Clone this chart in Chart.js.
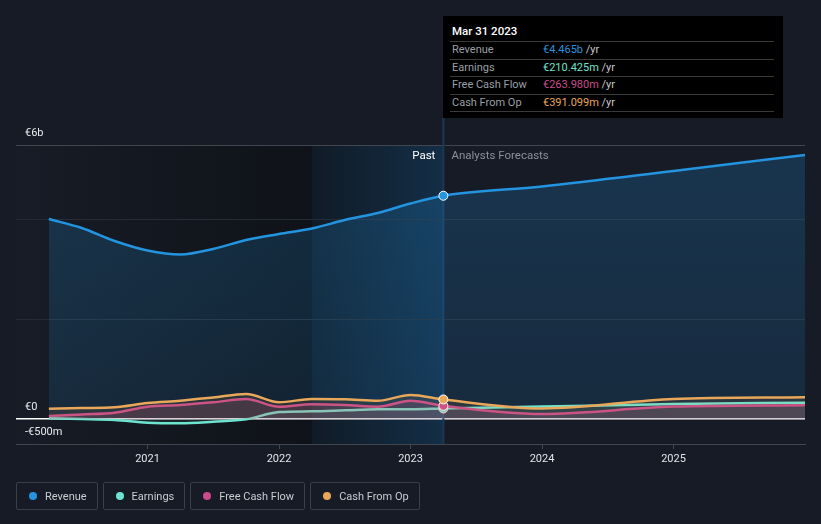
<!DOCTYPE html>
<html>
<head>
<meta charset="utf-8">
<script src="https://cdn.jsdelivr.net/npm/chart.js@4/dist/chart.umd.min.js"></script>
<style>
  body { margin: 0; background: #161b26; font-family: Roboto, "Open Sans", sans-serif; }
  #wrap { position: relative; width: 821px; height: 524px; overflow: hidden; }
  #chart { position: absolute; left: 0; top: 0; }
  #tip { position: absolute; left: 443px; top: 16px; width: 340px; height: 102px; background: #000; color: #fff; font-size: 11px; }
  #tip .title { position: absolute; left: 9px; top: 8px; font-size: 11.5px; font-weight: 500; }
  #tip .row { position: absolute; left: 7px; width: 324px; height: 17px; border-top: 1px solid #3a3a3a; }
  #tip .row > span { position: absolute; top: 1px; }
  #tip .lab { left: 2px; color: #9a9fa6; }
  #tip .val { left: 93px; white-space: nowrap; }
  #tip .yr { color: #c8c8c8; }
  #tip .end { position: absolute; left: 7px; top: 95px; width: 324px; border-top: 1px solid #3a3a3a; }
  #legend { position: absolute; left: 16px; top: 482px; display: flex; }
  .item { height: 28px; border: 1px solid #3a404b; border-radius: 2px; margin-right: 5px; display: flex; align-items: center; padding: 0 10px 0 12px; color: #c9ccd1; font-size: 11px; box-sizing: border-box; }
  .dot { width: 8px; height: 8px; border-radius: 50%; margin-right: 8px; }
</style>
</head>
<body>
<div id="wrap">
  <canvas id="chart" width="821" height="524"></canvas>
  <div id="tip"></div>
  <div id="legend"></div>
</div>
<script>
// quarter ends as decimal years, past then analyst forecasts (values in EUR m)
const years    = [2020.25, 2020.5, 2020.75, 2021.0, 2021.25, 2021.5, 2021.75, 2022.0, 2022.25, 2022.5, 2022.75, 2023.0, 2023.25, 2024.0, 2025.0, 2026.0];
const revenue  = [4000, 3820, 3560, 3370, 3290, 3400, 3580, 3700, 3810, 3980, 4120, 4310, 4465, 4650, 4960, 5280];
const earnings = [14, 0, -20, -74, -86, -54, -6, 140, 154, 174, 194, 195, 210, 248, 300, 326];
const fcf      = [60, 90, 126, 246, 280, 334, 400, 246, 294, 280, 246, 366, 264, 100, 248, 274];
const cfo      = [206, 220, 234, 320, 366, 430, 500, 335, 400, 395, 365, 480, 391, 210, 400, 434];

const xTicks = [2021, 2022, 2023, 2024, 2025];
const yTicks = [-500, 0, 2000, 4000, 5480];
const yLabels = { '-500': '-€500m', '0': '€0', '5480': '€6b' };

const nowX = 2023.25;      // last reported
const yearAgoX = 2022.25;  // start of highlighted last year
const nowIdx = years.indexOf(nowX);

const seriesNames  = ['Revenue', 'Earnings', 'Free Cash Flow', 'Cash From Op'];
const seriesColors = ['#2394df', '#6ee3cf', '#c94b8b', '#e9a75a'];
const tipValues    = ['€4.465b', '€210.425m', '€263.980m', '€391.099m'];
const tipTitle     = 'Mar 31 2023';

function pts(vals) {
  return years.map((x, i) => ({ x: x, y: vals[i] }));
}

// tooltip box
const tip = document.getElementById('tip');
let html = '<div class="title">' + tipTitle + '</div>';
seriesNames.forEach((n, i) => {
  html += '<div class="row" style="top:' + (25 + i * 17.5) + 'px"><span class="lab">' + n + '</span>' +
    '<span class="val"><span style="color:' + seriesColors[i] + '">' + tipValues[i] + '</span> <span class="yr">/yr</span></span></div>';
});
html += '<div class="end"></div>';
tip.innerHTML = html;

// legend
const legend = document.getElementById('legend');
seriesNames.forEach((n, i) => {
  const d = document.createElement('div');
  d.className = 'item';
  d.innerHTML = '<span class="dot" style="background:' + seriesColors[i] + '"></span>' + n;
  legend.appendChild(d);
});

const bands = {
  id: 'bands',
  beforeDraw(chart) {
    const { ctx, chartArea: a, scales: { x } } = chart;
    const x1 = x.getPixelForValue(yearAgoX);
    const x2 = x.getPixelForValue(nowX);
    let g = ctx.createLinearGradient(a.left, 0, x1, 0);
    g.addColorStop(0, '#171c26');
    g.addColorStop(1, '#0f1218');
    ctx.fillStyle = g;
    ctx.fillRect(a.left, a.top, x1 - a.left, a.bottom - a.top);
    g = ctx.createLinearGradient(x1, 0, x2, 0);
    g.addColorStop(0, '#111b26');
    g.addColorStop(1, '#132e47');
    ctx.fillStyle = g;
    ctx.fillRect(x1, a.top, x2 - x1, a.bottom - a.top);
  },
  beforeDatasetsDraw(chart) {
    const { ctx, chartArea: a, scales: { x } } = chart;
    const x2 = x.getPixelForValue(nowX);
    ctx.save();
    ctx.strokeStyle = '#1b3856';
    ctx.lineWidth = 2;
    ctx.beginPath();
    ctx.moveTo(x2, 118);
    ctx.lineTo(x2, a.bottom);
    ctx.stroke();
    ctx.restore();
  },
  afterDraw(chart) {
    const { ctx, chartArea: a, scales: { x } } = chart;
    const x2 = x.getPixelForValue(nowX);
    ctx.save();
    ctx.font = '11.5px Roboto';
    ctx.textBaseline = 'middle';
    ctx.textAlign = 'right';
    ctx.fillStyle = '#ffffff';
    ctx.fillText('Past', x2 - 8, a.top + 11);
    ctx.textAlign = 'left';
    ctx.fillStyle = '#8a9099';
    ctx.fillText('Analysts Forecasts', x2 + 8, a.top + 11);
    ctx.restore();
  }
};

function revFill(c) {
  const a = c.chart.chartArea;
  if (!a) return 'rgba(35,148,223,0.2)';
  const g = c.chart.ctx.createLinearGradient(0, a.top, 0, a.bottom);
  g.addColorStop(0, 'rgba(35,148,223,0.22)');
  g.addColorStop(1, 'rgba(35,148,223,0.12)');
  return g;
}

const radius = c => c.dataIndex === nowIdx ? 4.5 : 0;

function ds(label, vals, color, fillColor, width) {
  return {
    label: label,
    data: pts(vals),
    borderColor: color,
    backgroundColor: fillColor,
    fill: 'origin',
    borderWidth: width,
    cubicInterpolationMode: 'monotone',
    pointRadius: radius,
    pointHoverRadius: 0,
    pointBackgroundColor: color,
    pointBorderColor: '#ffffff',
    pointBorderWidth: 1
  };
}

new Chart(document.getElementById('chart'), {
  type: 'line',
  data: {
    datasets: [
      ds('Cash From Op', cfo, '#e9a75a', 'rgba(233,167,90,0.10)', 2.5),
      ds('Free Cash Flow', fcf, '#c94b8b', 'rgba(201,75,139,0.18)', 2.5),
      ds('Earnings', earnings, '#6ee3cf', 'rgba(110,227,207,0.08)', 2.5),
      ds('Revenue', revenue, '#2394df', revFill, 2.5)
    ]
  },
  options: {
    responsive: false,
    devicePixelRatio: 1,
    animation: false,
    layout: { padding: { left: 16, right: 16, top: 145, bottom: 50 } },
    plugins: { legend: { display: false }, tooltip: { enabled: false } },
    scales: {
      x: {
        type: 'linear',
        min: 2020,
        max: 2026,
        afterBuildTicks: s => { s.ticks = xTicks.map(v => ({ value: v })); },
        afterFit: s => { s.height = 30; },
        grid: { drawOnChartArea: false, drawTicks: true, tickLength: 5, color: '#40454e' },
        border: { display: true, color: '#40454e' },
        ticks: { color: '#e2e4e8', font: { family: 'Roboto', size: 11 }, padding: 4, callback: v => String(v) }
      },
      y: {
        min: -500,
        max: 5480,
        afterBuildTicks: s => { s.ticks = yTicks.map(v => ({ value: v })); },
        afterFit: s => { s.width = 0; },
        border: { display: false },
        grid: {
          drawTicks: false,
          color: c => c.tick.value === 0 ? '#ffffff' : (c.tick.value === 5480 || c.tick.value === -500 ? '#40454e' : '#262c37'),
          lineWidth: c => c.tick.value === 0 ? 1.5 : 1
        },
        ticks: {
          mirror: true,
          padding: 9,
          labelOffset: -12,
          color: '#e8eaed',
          font: { family: 'Roboto', size: 11 },
          callback: v => yLabels[String(v)] || ''
        }
      }
    }
  },
  plugins: [bands]
});
</script>
</body>
</html>
